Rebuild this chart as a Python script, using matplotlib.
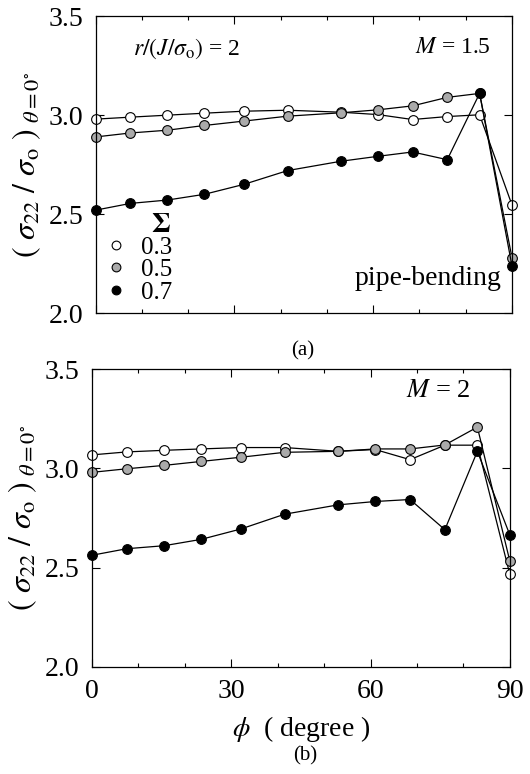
import matplotlib
matplotlib.use("Agg")
import matplotlib.pyplot as plt
from matplotlib.ticker import MultipleLocator

plt.rcParams['font.family'] = ['Liberation Serif', 'DejaVu Serif']
plt.rcParams['mathtext.fontset'] = 'stix'

# phi (degree) positions of the computed points
phi = [0, 7.5, 15.5, 23.5, 32, 41.5, 53, 61, 68.5, 76, 83, 90]

# (a) M = 1.5
a_s03 = [2.98, 2.99, 3.00, 3.01, 3.02, 3.025, 3.015, 3.003, 2.978, 2.993, 3.002, 2.546]
a_s05 = [2.89, 2.91, 2.924, 2.948, 2.97, 2.995, 3.012, 3.027, 3.047, 3.09, 3.11, 2.28]
a_s07 = [2.52, 2.554, 2.571, 2.60, 2.65, 2.72, 2.767, 2.792, 2.814, 2.775, 3.11, 2.238]

# (b) M = 2
b_s03 = [3.068, 3.083, 3.091, 3.098, 3.105, 3.105, 3.086, 3.095, 3.044, 3.117, 3.117, 2.465]
b_s05 = [2.98, 2.998, 3.015, 3.035, 3.056, 3.081, 3.086, 3.098, 3.098, 3.118, 3.208, 2.532]
b_s07 = [2.562, 2.595, 2.61, 2.642, 2.694, 2.769, 2.816, 2.833, 2.843, 2.691, 3.086, 2.664]

sigma_labels = ['0.3', '0.5', '0.7']
face_colors = ['white', '#aaaaaa', 'black']

fig = plt.figure(figsize=(5.3, 7.74), dpi=100)
ax1 = fig.add_axes([0.1806, 0.5956, 0.7854, 0.3834])
ax2 = fig.add_axes([0.1736, 0.1386, 0.7884, 0.3844])

ylabel = r'$(\ \sigma_{22}\ /\ \sigma_{\rm o}\ )_{\ \theta=0^{\circ}}$'

for ax, series in [(ax1, [a_s03, a_s05, a_s07]), (ax2, [b_s03, b_s05, b_s07])]:
    for vals, fc, lab in zip(series, face_colors, sigma_labels):
        ax.plot(phi, vals, '-o', color='black', lw=0.9, ms=7, mfc=fc,
                mec='black', mew=0.8, label=lab, clip_on=False)
    ax.set_xlim(0, 90)
    ax.set_ylim(2.0, 3.5)
    ax.xaxis.set_major_locator(MultipleLocator(30))
    ax.xaxis.set_minor_locator(MultipleLocator(10))
    ax.yaxis.set_major_locator(MultipleLocator(0.5))
    ax.tick_params(which='both', direction='in', top=True, right=True,
                   labelsize=20, width=0.8, pad=9)
    ax.tick_params(which='major', length=6)
    ax.tick_params(which='minor', length=3)
    ax.set_ylabel(ylabel, fontsize=23, labelpad=4)
    for s in ax.spines.values():
        s.set_linewidth(0.9)

ax1.tick_params(labelbottom=False)

ax1.text(0.09, 0.93, r'$r/(J/\sigma_{\rm o})$ = 2', transform=ax1.transAxes,
         fontsize=17, va='top', ha='left')
ax1.text(0.95, 0.93, r'$M$ = 1.5', transform=ax1.transAxes,
         fontsize=17, va='top', ha='right')
ax1.text(0.975, 0.075, 'pipe-bending', transform=ax1.transAxes,
         fontsize=20, va='bottom', ha='right')
ax1.text(0.134, 0.295, r'$\mathbf{\Sigma}$', transform=ax1.transAxes,
         fontsize=20, va='center', ha='left')
ax1.legend(loc='lower left', bbox_to_anchor=(0.0, -0.036), frameon=False,
           fontsize=18, handlelength=0, handletextpad=1.0, labelspacing=0.0,
           borderaxespad=0.4, markerscale=0.9)

ax2.text(0.905, 0.965, r'$M$ = 2', transform=ax2.transAxes,
         fontsize=19, va='top', ha='right')
ax2.set_xlabel(r'$\phi$  ( degree )', fontsize=20, labelpad=7)

fig.text(0.572, 0.547, '(a)', fontsize=15, ha='center', va='center')
fig.text(0.575, 0.024, '(b)', fontsize=15, ha='center', va='center')

fig.savefig('out.png', dpi=100)
